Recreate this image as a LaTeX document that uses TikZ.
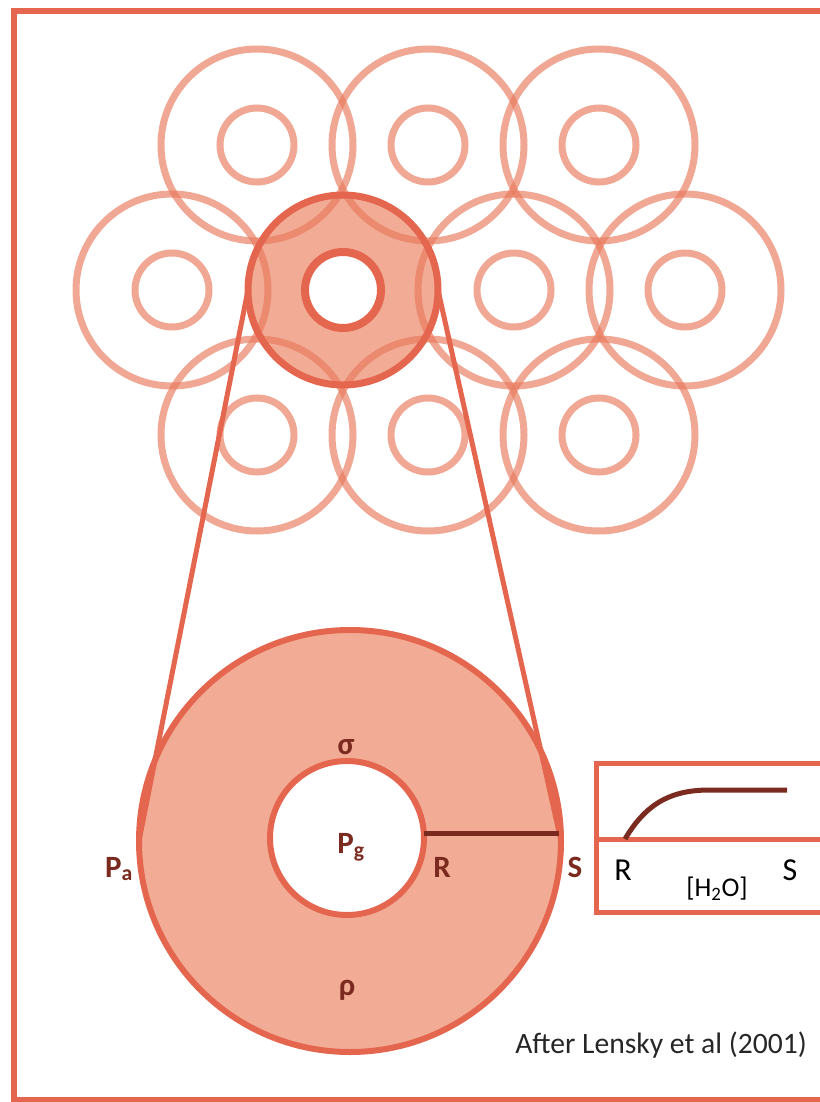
\documentclass[tikz,border=0pt]{standalone}
\usepackage{fontspec}
\setmainfont{Carlito}
\definecolor{framec}{HTML}{E5664F}
\definecolor{lightc}{HTML}{E8795C}
\definecolor{fillc}{HTML}{F2AB95}
\definecolor{brownc}{HTML}{7A2A1E}
\definecolor{captc}{HTML}{262626}
\begin{document}
\begin{tikzpicture}[x=1pt,y=-1pt,
  lightring/.style={circle, draw=lightc, draw opacity=0.65, line width=7pt, minimum size=192pt, inner sep=0pt, outer sep=0pt},
  lightcore/.style={lightring, minimum size=74pt},
  strongline/.style={draw=framec, line width=6pt},
  lbl/.style={text=brownc, font=\fontsize{31}{36}\selectfont\bfseries, inner sep=0pt},
  glbl/.style={text=black, font=\fontsize{32}{38}\selectfont, inner sep=0pt}
]
\useasboundingbox (0,0) rectangle (819,1102);
% outer frame
\draw[strongline] (14,11) rectangle (840,1100);
% highlighted cell fill
\fill[fillc] (343,290) circle (95);
% light cells
\foreach \n/\x/\y in {a/257/145, b/428/145, c/599/145, d/172/290, e/514/290, f/685/290, g/257/435, h/428/435, i/599/435}{
  \node[lightring] (o\n) at (\x,\y) {};
  \node[lightcore] (i\n) at (\x,\y) {};
}
% highlighted cell
\node[circle, draw=framec, line width=7pt, minimum size=190pt, inner sep=0pt, outer sep=0pt] (hl) at (343,290) {};
\node[circle, draw=framec, fill=white, line width=8pt, minimum size=76pt, inner sep=0pt, outer sep=0pt] (hlcore) at (343,290) {};
% enlarged cell
\node[circle, draw=framec, fill=fillc, line width=6pt, minimum size=422pt, inner sep=0pt, outer sep=0pt] (big) at (350,841) {};
\node[circle, draw=framec, fill=white, line width=6pt, minimum size=154pt, inner sep=0pt, outer sep=0pt] (bubble) at (347,838) {};
\draw[draw=framec, line width=5pt] (hl.west) -- (big.west);
\draw[draw=framec, line width=5pt] (hl.east) -- (big.east);
% R-S line
\coordinate (sEnd) at (559,833);
\draw[brownc, line width=5pt] ([yshift=5pt]bubble.east) -- (sEnd);
% labels
\node[lbl] (sigma) at (346,747) {σ};
\node[lbl] (Pg) at (351,847) {P\textsubscript{g}};
\node[lbl] (R) at (442,867) {R};
\node[lbl] (S) at (575,867) {S};
\node[lbl] (Pa) at (119,869) {P\textsubscript{a}};
\node[lbl] (rho) at (347,990) {ρ};
% graph inset
\coordinate (gtl) at (596,763);
\coordinate (gtr) at (840,763);
\coordinate (gax) at (596,839);
\coordinate (gaxr) at (840,839);
\coordinate (gbl) at (596,912);
\coordinate (gbr) at (840,912);
\draw[draw=framec, line width=5pt] (gtr) -- (gtl) -- (gbl) -- (gbr);
\draw[draw=framec, line width=5pt] (gax) -- (gaxr);
\coordinate (c0) at (625,839);
\coordinate (c1) at (710,790);
\coordinate (c2) at (787,790);
\draw[brownc, line width=5pt] (c0) .. controls (648,800) and (675,790) .. (c1) -- (c2);
\node[glbl] (gR) at (623,870) {R};
\node[glbl] (gS) at (790,870) {S};
\node[glbl, font=\fontsize{27}{31}\selectfont] (gH) at (717,889) {[H\textsubscript{2}O]};
% caption
\node[text=captc, font=\fontsize{29.6}{34}\selectfont, inner sep=0pt] (cap) at (661,1045) {After Lensky et al (2001)};
\end{tikzpicture}
\end{document}
